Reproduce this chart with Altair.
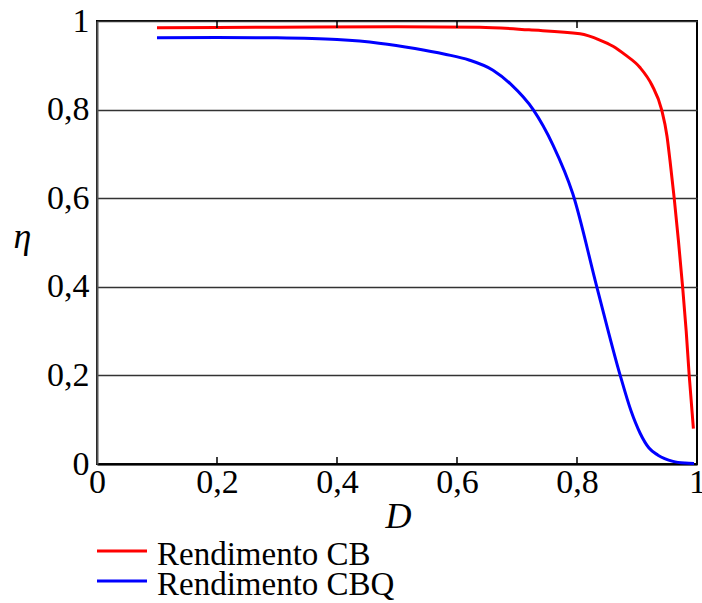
import altair as alt
import pandas as pd

# ---- data ----
series = ["Rendimento CB", "Rendimento CBQ"]
colors = ["#ff0000", "#0000ff"]

d_cb = [0.1, 0.3, 0.5, 0.638, 0.72, 0.805, 0.838, 0.86, 0.88, 0.905, 0.925, 0.941, 0.95, 0.955,
        0.962, 0.969, 0.976, 0.982, 0.987, 0.994]
eta_cb = [0.985, 0.986, 0.987, 0.986, 0.98, 0.971, 0.957, 0.943, 0.924, 0.895, 0.855, 0.8, 0.74, 0.685,
          0.6, 0.505, 0.4, 0.3, 0.2, 0.08]

d_cbq = [0.1, 0.2, 0.3, 0.4, 0.47, 0.53, 0.58, 0.62, 0.66, 0.69, 0.727, 0.76, 0.793, 0.833,
         0.872, 0.89, 0.905, 0.92, 0.935, 0.96, 0.98, 0.995]
eta_cbq = [0.962, 0.963, 0.962, 0.958, 0.95, 0.938, 0.925, 0.912, 0.889, 0.857, 0.8, 0.72, 0.61, 0.4,
           0.2, 0.12, 0.07, 0.036, 0.02, 0.006, 0.002, 0.001]

x_ticks = [0, 0.2, 0.4, 0.6, 0.8, 1]
y_ticks = [0, 0.2, 0.4, 0.6, 0.8, 1]
inner_ticks = [0.2, 0.4, 0.6, 0.8]

df = pd.concat([
    pd.DataFrame({"D": d_cb, "eta": eta_cb, "serie": series[0]}),
    pd.DataFrame({"D": d_cbq, "eta": eta_cbq, "serie": series[1]}),
])
tdf = pd.DataFrame({"D": inner_ticks})
ldf = pd.DataFrame({"serie": series})

W, H = 600, 443
FONT = "Liberation Serif, Times New Roman, DejaVu Serif, serif"
label_expr = "replace(format(datum.value, '~g'), '.', ',')"
color_scale = alt.Scale(domain=series, range=colors)

lines = alt.Chart(df).mark_line(strokeWidth=3, interpolate="monotone").encode(
    x=alt.X("D:Q", scale=alt.Scale(domain=[0, 1], nice=False, zero=False),
            axis=alt.Axis(values=x_ticks, title="D", grid=False, ticks=False, tickSize=0,
                          labelExpr=label_expr, labelPadding=28, labelBaseline="alphabetic",
                          labelFlush=False, labelOverlap=False,
                          domainColor="black", domainWidth=2,
                          titleX=301, titleY=63, titleAlign="center", titleBaseline="alphabetic",
                          titleFontStyle="italic", titleFontWeight="normal")),
    y=alt.Y("eta:Q", scale=alt.Scale(domain=[0, 1], nice=False, zero=False),
            axis=alt.Axis(values=y_ticks, title="η", grid=True, ticks=False, tickSize=0,
                          labelExpr=label_expr, labelPadding=8, labelFlush=False, labelOverlap=False,
                          gridColor="#333333", gridWidth=1.6,
                          domainColor="#555555", domainWidth=2,
                          titleAngle=0, titleX=-75, titleY=226, titleAlign="center",
                          titleBaseline="alphabetic", titleFontStyle="italic", titleFontWeight="normal")),
    color=alt.Color("serie:N", scale=color_scale, legend=None),
)

ticks_bottom = alt.Chart(tdf).mark_rule(color="black", strokeWidth=1.5).encode(
    x="D:Q", y=alt.value(H), y2=alt.value(H - 7))
ticks_top = alt.Chart(tdf).mark_rule(color="black", strokeWidth=1.5).encode(
    x="D:Q", y=alt.value(0), y2=alt.value(7))

# legend built from the series list (one row per series)
legend_layers = []
for i, s in enumerate(series):
    base = alt.Chart(ldf).transform_filter(alt.datum.serie == s)
    legend_layers.append(base.mark_rule(strokeWidth=3).encode(
        x=alt.value(0), x2=alt.value(50), y=alt.value(530 + 30 * i),
        color=alt.Color("serie:N", scale=color_scale, legend=None)))
    legend_layers.append(base.mark_text(align="left", baseline="alphabetic", font=FONT,
                                        fontSize=33, color="black").encode(
        x=alt.value(60), y=alt.value(544 + 30 * i), text="serie:N"))

chart = alt.layer(lines, ticks_bottom, ticks_top, *legend_layers).properties(
    width=W, height=H,
    autosize=alt.AutoSizeParams(type="none"),
    padding={"left": 97, "top": 21, "right": 5, "bottom": 139},
    background="white",
).configure_view(stroke="black", strokeWidth=2).configure_axis(
    labelFont=FONT, labelFontSize=34, labelColor="black",
    titleFont=FONT, titleFontSize=36, titleColor="black",
)

chart.save("out.html", embed_options={"renderer": "svg", "actions": False})
